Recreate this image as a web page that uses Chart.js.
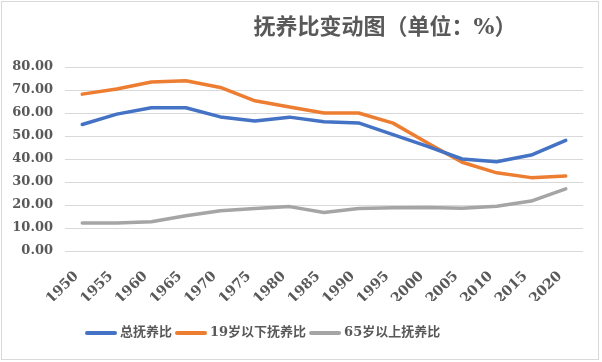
<!DOCTYPE html>
<html lang="zh">
<head>
    <meta charset="UTF-8">
    <title>抚养比变动图</title>
    <style>
        body {
            margin: 0;
            background-color: #ffffff;
        }
    </style>
</head>
<body>
    <canvas id="ratioChart" width="602" height="362"></canvas>

    <script src="https://cdn.jsdelivr.net/npm/chart.js"></script>
    <script>
        const years = ['1950', '1955', '1960', '1965', '1970', '1975', '1980', '1985',
                       '1990', '1995', '2000', '2005', '2010', '2015', '2020'];
        const totalRatio = [55.0, 59.5, 62.3, 62.3, 58.3, 56.5, 58.2, 56.2, 55.7, 50.6, 45.5, 40.0, 38.8, 41.7, 48.1];
        const youngRatio = [68.2, 70.4, 73.5, 74.0, 71.1, 65.3, 62.6, 60.0, 60.0, 55.6, 47.0, 38.6, 34.0, 31.9, 32.6];
        const oldRatio = [12.2, 12.2, 12.7, 15.3, 17.5, 18.5, 19.3, 16.7, 18.5, 18.8, 18.9, 18.6, 19.5, 21.7, 27.0];
        const yTicks = [0, 10, 20, 30, 40, 50, 60, 70, 80];

        const textColor = '#595959';
        const serifFont = "'DejaVu Serif', 'Noto Sans CJK SC', serif";

        // title, legend and outer frame drawn on top of the chart
        const decorPlugin = {
            id: 'decor',
            afterDraw(chart) {
                const ctx = chart.ctx;
                ctx.save();

                ctx.strokeStyle = '#d9d9d9';
                ctx.lineWidth = 1;
                ctx.strokeRect(1.5, 1.5, 597, 358);

                ctx.fillStyle = textColor;
                ctx.font = "bold 22px " + serifFont;
                ctx.textAlign = 'center';
                ctx.textBaseline = 'middle';
                ctx.fillText('抚养比变动图（单位：%）', 385, 28);

                ctx.font = "bold 13px " + serifFont;
                ctx.textAlign = 'left';
                let x = 85;
                const y = 333;
                chart.data.datasets.forEach(ds => {
                    ctx.strokeStyle = ds.borderColor;
                    ctx.lineWidth = 4;
                    ctx.lineCap = 'round';
                    ctx.beginPath();
                    ctx.moveTo(x + 2, y);
                    ctx.lineTo(x + 30, y);
                    ctx.stroke();
                    ctx.fillText(ds.label, x + 35, y);
                    x += 35 + ctx.measureText(ds.label).width + 3;
                });
                ctx.restore();
            }
        };

        const ctx = document.getElementById('ratioChart').getContext('2d');
        new Chart(ctx, {
            type: 'line',
            data: {
                labels: years,
                datasets: [
                    { label: '总抚养比', data: totalRatio, borderColor: '#4472C4' },
                    { label: '19岁以下抚养比', data: youngRatio, borderColor: '#ED7D31' },
                    { label: '65岁以上抚养比', data: oldRatio, borderColor: '#A5A5A5' }
                ]
            },
            options: {
                responsive: false,
                animation: false,
                layout: {
                    padding: { top: 67, right: 19, bottom: 61, left: 0 }
                },
                elements: {
                    line: { borderWidth: 3.5, tension: 0, borderCapStyle: 'round', borderJoinStyle: 'round' },
                    point: { radius: 0 }
                },
                plugins: {
                    legend: { display: false },
                    tooltip: { enabled: false }
                },
                scales: {
                    x: {
                        offset: true,
                        grid: { display: false, drawTicks: false },
                        border: { display: false },
                        afterFit(axis) { axis.height = 50; },
                        ticks: {
                            color: textColor,
                            font: { family: serifFont, size: 14, weight: 'bold' },
                            minRotation: 45,
                            maxRotation: 45,
                            autoSkip: false,
                            labelOffset: -6,
                            padding: 17
                        }
                    },
                    y: {
                        min: 0,
                        max: 80,
                        afterBuildTicks(axis) { axis.ticks = yTicks.map(v => ({ value: v })); },
                        afterFit(axis) { axis.width = 65; },
                        grid: { color: '#d9d9d9', lineWidth: 1, drawTicks: false },
                        border: { display: false },
                        ticks: {
                            color: textColor,
                            font: { family: serifFont, size: 13, weight: 'bold' },
                            padding: 12,
                            callback: v => v.toFixed(2)
                        }
                    }
                }
            },
            plugins: [decorPlugin]
        });
    </script>
</body>
</html>
